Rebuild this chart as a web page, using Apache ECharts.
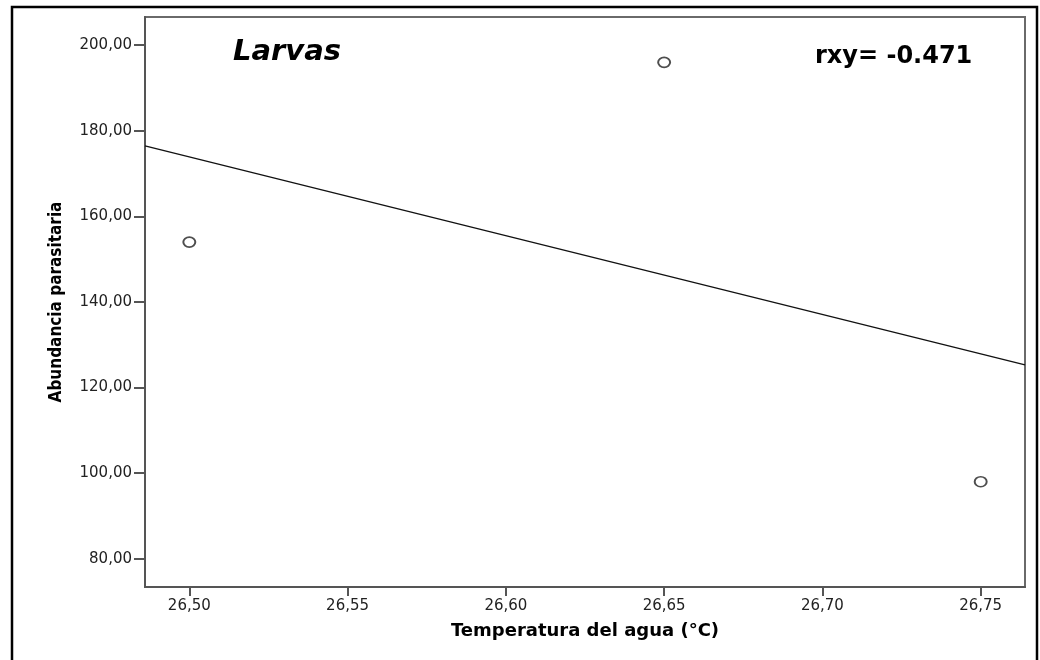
<!DOCTYPE html>
<html>
<head>
<meta charset="utf-8">
<script src="https://cdn.jsdelivr.net/npm/echarts@6/dist/echarts.min.js"></script>
<style>
html,body{margin:0;padding:0;background:#fff;}
#chart{width:1040px;height:660px;}
</style>
</head>
<body>
<div id="chart"></div>
<script>
// Data
var temperatura = [26.50, 26.65, 26.75];
var abundancia = [154, 196, 98];
// fitted regression line (read endpoints at the plot edges)
var fitX = [26.486, 26.764];
var fitY = [176.5, 125.3];
// axis ranges and ticks
var xRange = [26.486, 26.764];
var yRange = [73.4, 206.6];
var xTicks = [26.50, 26.55, 26.60, 26.65, 26.70, 26.75];
var yTicks = [80, 100, 120, 140, 160, 180, 200];
var titleText = 'Larvas';
var corrText = 'rxy= -0.471';
var xName = 'Temperatura del agua (°C)';
var yName = 'Abundancia parasitaria';

var points = temperatura.map(function(x, i){ return [x, abundancia[i]]; });
var fitLine = fitX.map(function(x, i){ return [x, fitY[i]]; });
function comma(v, d){ return Number(v).toFixed(d).replace('.', ','); }

var chart = echarts.init(document.getElementById('chart'), null, {renderer:'canvas'});
chart.setOption({
  backgroundColor:'#fff',
  animation:false,
  grid:{left:145, right:15, top:17, bottom:73, show:true, borderColor:'#6a6a6a', borderWidth:2, backgroundColor:'transparent'},
  xAxis:{
    type:'value', min:xRange[0], max:xRange[1],
    name:xName, nameLocation:'middle', nameGap:35,
    nameTextStyle:{fontFamily:'DejaVu Sans', fontWeight:'bold', fontSize:18, color:'#000'},
    splitLine:{show:false},
    axisLine:{show:true, onZero:false, lineStyle:{color:'#555', width:2}},
    axisTick:{show:true, inside:false, length:9, customValues:xTicks, lineStyle:{color:'#555', width:2}},
    axisLabel:{customValues:xTicks, margin:12, fontFamily:'DejaVu Sans', fontSize:15, color:'#222',
      formatter:function(v){ return comma(v, 2); }}
  },
  yAxis:{
    type:'value', min:yRange[0], max:yRange[1],
    name:yName, nameLocation:'middle', nameGap:80, nameRotate:90,
    nameTextStyle:{fontFamily:'DejaVu Sans Condensed', fontWeight:'bold', fontSize:17, color:'#000'},
    splitLine:{show:false},
    axisLine:{show:true, onZero:false, lineStyle:{color:'#555', width:2}},
    axisTick:{show:true, inside:false, length:11, customValues:yTicks, lineStyle:{color:'#555', width:2}},
    axisLabel:{customValues:yTicks, margin:13, fontFamily:'DejaVu Sans', fontSize:15, color:'#222',
      formatter:function(v){ return comma(v, 2); }}
  },
  series:[
    {type:'line', data:fitLine, symbol:'none', silent:true,
      lineStyle:{color:'#111', width:1.3}, z:2},
    {type:'scatter', data:points, symbol:'circle', symbolSize:[12,10],
      itemStyle:{color:'#fff', borderColor:'#222', borderWidth:1.8}, z:3}
  ],
  graphic:[
    {type:'rect', shape:{x:12, y:7, width:1025, height:700}, style:{fill:'none', stroke:'#000', lineWidth:2.5}, silent:true, z:10},
    {type:'text', x:233, y:52, style:{text:titleText, font:'italic bold 29px "DejaVu Sans"', fill:'#000', textVerticalAlign:'middle'}, z:10},
    {type:'text', x:815, y:57, style:{text:corrText, font:'bold 24px "DejaVu Sans"', fill:'#000', textVerticalAlign:'middle'}, z:10}
  ]
});
</script>
</body>
</html>
